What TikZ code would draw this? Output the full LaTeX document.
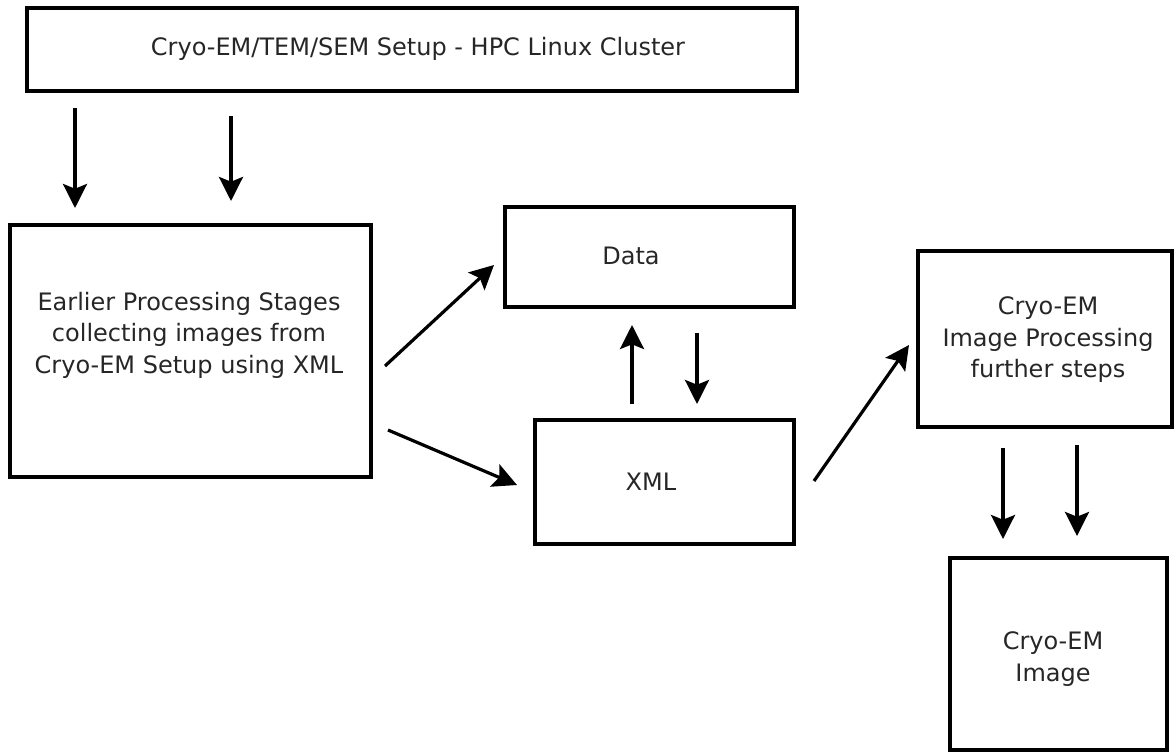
\documentclass[tikz,border=0pt]{standalone}
\usepackage{fontspec}
\setmainfont{DejaVu Sans}
\usetikzlibrary{arrows.meta}
\begin{document}
\begin{tikzpicture}[x=0.75pt,y=-0.75pt,
  box/.style={draw=black,line width=2.3pt,rectangle,inner sep=0pt},
  lbl/.style={align=center,font=\fontsize{18}{23.6}\selectfont,text=black!85,inner sep=0pt},
  flow/.style={line width=2.4pt,-{Stealth[length=18pt,width=18pt,inset=3.5pt]}}]
\useasboundingbox (0,0) rectangle (1175,753);

% boxes
\node[box,minimum width=770*0.75pt,minimum height=83*0.75pt] (setup) at (412,49.5) {};
\node[box,minimum width=361*0.75pt,minimum height=252*0.75pt] (early) at (190.5,351) {};
\node[box,minimum width=289*0.75pt,minimum height=100*0.75pt] (data) at (649.5,257) {};
\node[box,minimum width=259*0.75pt,minimum height=124*0.75pt] (xml) at (664.5,482) {};
\node[box,minimum width=254*0.75pt,minimum height=176*0.75pt] (further) at (1045,339) {};
\node[box,minimum width=217*0.75pt,minimum height=192*0.75pt] (image) at (1058.5,654) {};

% labels
\node[lbl] (tsetup) at (418,49) {Cryo-EM/TEM/SEM Setup - HPC Linux Cluster};
\node[lbl] (tearly) at (189,335) {Earlier Processing Stages\\collecting images from\\Cryo-EM Setup using XML};
\node[lbl] (tdata) at (631,256) {Data};
\node[lbl] (txml) at (651,482) {XML};
\node[lbl] (tfurther) at (1048,340) {Cryo-EM\\Image Processing\\further steps};
\node[lbl] (timage) at (1053,659) {Cryo-EM\\Image};

% arrow end points
\coordinate (a1s) at (75,108);   \coordinate (a1e) at (75,208);
\coordinate (a2s) at (231,116);  \coordinate (a2e) at (231,201);
\coordinate (a3s) at (385,366);  \coordinate (a3e) at (494,265);
\coordinate (a4s) at (388,430);  \coordinate (a4e) at (517,485);
\coordinate (a5s) at (632,404);  \coordinate (a5e) at (632,325);
\coordinate (a6s) at (697,333);  \coordinate (a6e) at (697,404);
\coordinate (a7s) at (814,481);  \coordinate (a7e) at (909,345);
\coordinate (a8s) at (1003,448); \coordinate (a8e) at (1003,539);
\coordinate (a9s) at (1077,445); \coordinate (a9e) at (1077,536);

% arrows
\foreach \i in {1,...,9}
  \draw[flow] (a\i s) -- (a\i e);
\end{tikzpicture}
\end{document}
